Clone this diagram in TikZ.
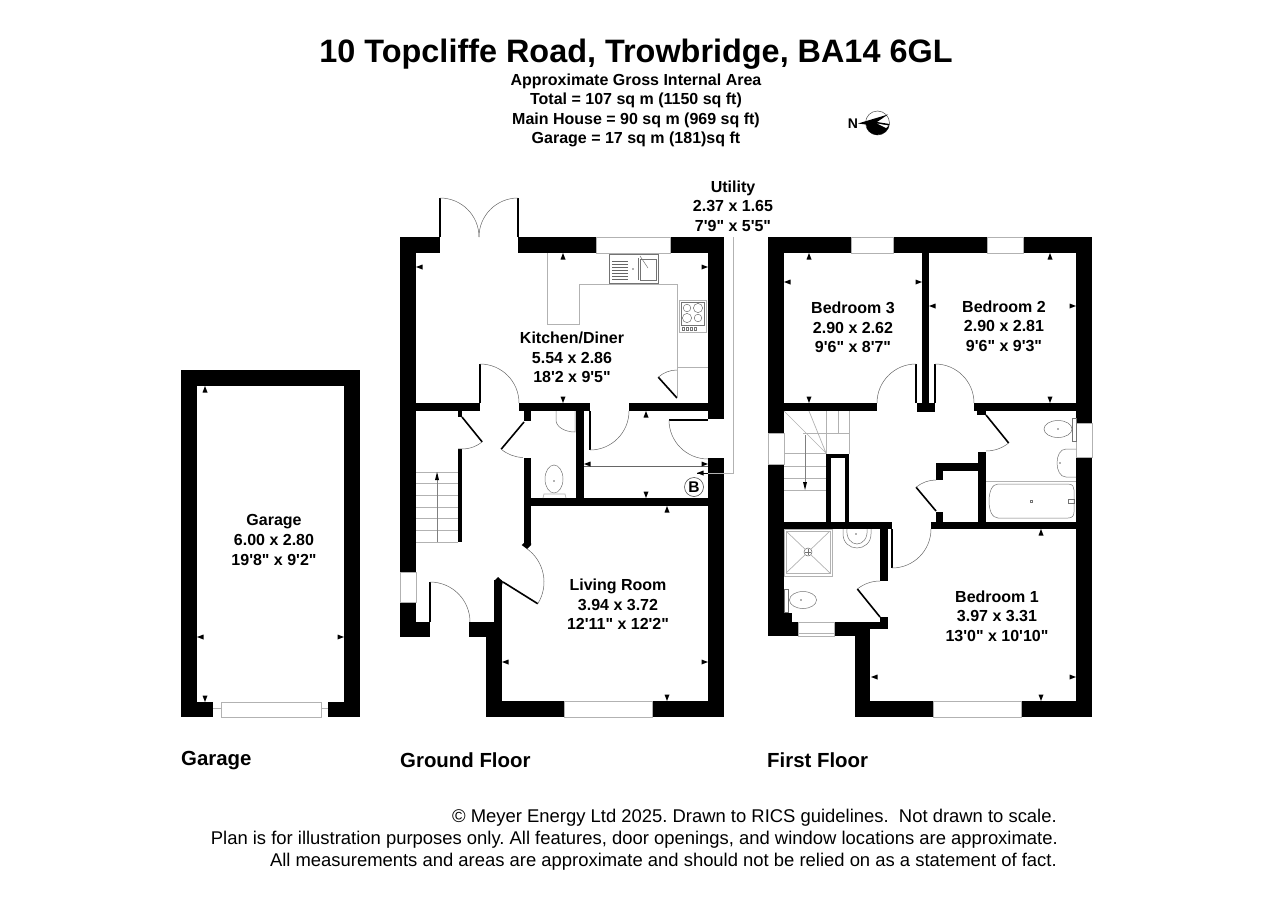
\documentclass[tikz,border=0pt]{standalone}
\usepackage{fontspec}
\setmainfont{Liberation Sans}[Ligatures=TeXOff]
\tikzset{
	wall/.style={fill=black},
	fixture/.style={draw=black!30, line width=0.7pt},
	fitting/.style={draw=black!55, line width=0.5pt},
	leaf/.style={draw=black, line width=1.6pt},
	swing/.style={draw=black!60, line width=0.5pt},
	roomlabel/.style={font=\bfseries\fontsize{16}{19.6}\selectfont, align=center},
	infolabel/.style={font=\bfseries\fontsize{16}{19.4}\selectfont, align=center},
	floorlabel/.style={font=\bfseries\fontsize{20.4}{22}\selectfont, anchor=base west, inner sep=0pt},
	noticelabel/.style={font=\frenchspacing\fontsize{18.43}{22}\selectfont, anchor=base east, inner sep=0pt}
}
\begin{document}
\begin{tikzpicture}[x=1pt, y=1pt, yscale=-1]
	\useasboundingbox (0,0) rectangle (1280,905);

	% Heading
	\node[font=\bfseries\fontsize{32.4}{36}\selectfont] (title) at (636,54.5) {10 Topcliffe Road, Trowbridge, BA14 6GL};
	\node[infolabel] (areas) at (636,110.5) {Approximate Gross Internal Area\\Total = 107 sq m (1150 sq ft)\\Main House = 90 sq m (969 sq ft)\\Garage = 17 sq m (181)sq ft};

	% North point
	\node[font=\bfseries\fontsize{14}{15}\selectfont] (north) at (853,124) {N};
	\draw[black!70, line width=0.5pt] (877.5,123) circle (12);
	\fill (858,123.5) -- (888,114.5) -- (877,122) -- (889.5,124) arc[start angle=5, end angle=150, radius=12] -- (866,124.5) -- cycle;
	\fill[white] (877,123.5) -- (888.5,125.5) -- (886,128) -- cycle;

	% Walls of all three plans
	\foreach \xa/\ya/\xb/\yb in {
		181/370/360/386, 181/370/197/717, 344/370/360/717, 181/702/213/717, 328/702/360/717,
		400/237/440/253, 518/237/596/253, 670/237/724/253,
		400/237/416/572, 400/602/416/637, 416/622/430/637,
		708/237/724/419, 708/458/724/717,
		416/403/480/411, 519/403/590/411, 629/403/708/411,
		458/411/462/417, 458/449/462/542,
		524/411/531/421, 524/458/531/545, 576/411/584/498, 531/498/708/506,
		469/622/494/637, 486/637/502/717, 494/580/502/637,
		486/701/564/717, 652/701/724/717,
		768/237/851/253, 893/237/987/253, 1023/237/1092/253,
		768/237/784/433, 768/464/784/636, 768/622/798/636, 784/613/792/622,
		1076/237/1092/423, 1076/457/1092/717,
		922/253/929/403, 917/403/935/412,
		784/403/877/411, 974/403/1076/411, 977/411/986/415,
		978/452/986/522, 936/463/978/471, 936/463/943/480, 936/512/943/522,
		931/522/1076/529, 784/522/892/529,
		826/454/831/522, 845/454/849/522, 826/454/849/458,
		880/529/888/581, 880/617/888/629, 834/622/888/629, 834/629/870/636,
		855/636/870/717, 855/701/933/717, 1021/701/1092/717}
		\fill[wall] (\xa,\ya) rectangle (\xb,\yb);

	% Angled wall ends by the hall
	\fill[wall] (524,543) -- (521.7,545) -- (527,549) -- (531,545) -- (531,543) -- cycle;
	\fill[wall] (494,581) -- (498,577) -- (503,581.5) -- (502,585) -- (494,585) -- cycle;

	% Windows
	\foreach \xa/\ya/\xb/\yb in {
		221/702/321/717, 596/237/670/253, 400/572/416/602, 564/701/652/717,
		851/237/893/253, 987/237/1023/253, 768/433/784/464, 1076/423/1092/457,
		798/622/834/636, 933/701/1021/717}
		\draw[fixture] (\xa,\ya) rectangle (\xb,\yb);
	\draw[fixture] (213,708) -- (221,708);
	\draw[fixture] (321,708) -- (328,708);
	\draw[fixture] (798,633) -- (834,633);

	% Doors: hinge, width, leaf angle, angle at the end of the swing
	\foreach \x/\y/\rad/\a/\b in {
		440/237/39/-90/0, 518/237/39/-90/-180, 480/403/39/-90/0,
		677/398/28/-132/-90, 462/417/32/51/97, 524/422/35.5/130/92,
		590/411/39/90/0, 708/420/39/180/90, 430/622/40/-90/0, 503/582/41/32/-55,
		916/403/39/-90/-180, 935/403/39/-90/0, 986/415/36/51/90,
		936/511/31/-130/-90, 892/529/39/90/0, 880/617/36/-129/-90} {
		\draw[leaf] (\x,\y) -- ++(\a:\rad);
		\draw[swing] (\x,\y) ++(\a:\rad) arc[start angle=\a, end angle=\b, radius=\rad pt];
	}

	% Kitchen units
	\draw[fixture] (547,253) -- (547,324) -- (579,324) -- (579,284) -- (677,284) -- (677,398);
	\draw[fixture] (677,367) -- (708,367);
	\draw[fitting] (609,254) rectangle (658,283);
	\draw[fitting] (638,258) -- (638,280);
	\draw[fitting] (640,259) rectangle (656,280);
	\foreach \y in {261,264,267,270,273,276,279}
		\draw[black!60, line width=0.7pt] (612,\y) -- (628,\y);
	\fill[black!60] (633,269) circle (0.8);
	\draw[fitting] (640,256) -- (648,268);
	\draw[fixture] (679,300) rectangle (706,332);
	\draw[fitting] (681,302) rectangle (704,325);
	\foreach \x/\y/\rad in {687/308/3.8, 698/308/4.6, 687/318/4.6, 698/318/3.8}
		\draw[fitting] (\x,\y) circle (\rad);
	\foreach \x in {682,686,690,694}
		\draw[fitting] (\x,327.5) rectangle ++(2.5,2.5);

	% Ground floor stairs
	\foreach \y in {472,483.7,495.3,507,518.7,530.3,542}
		\draw[fixture] (416,\y) -- (458,\y);
	\draw[black!50, line width=0.5pt] (437,474) -- (437,542);
	\fill (437,472) -- (439,480) -- (435,480) -- cycle;

	% Ground floor WC
	\draw[fitting] (556,411) -- (556,420) .. controls (556,427) and (565,432) .. (575,432) -- (575,411);
	\draw[fitting] (554,479) ellipse (9 and 14);
	\draw[fixture] (543,498) -- (544,494) -- (565,494) -- (566,498);
	\fill[black!60] (554,481) circle (0.8);

	% Utility
	\draw[black!60, line width=0.6pt] (584,466) -- (708,466);
	\draw[fixture] (733,237) -- (733,473) -- (708,473);
	\draw[line width=0.8pt] (697,473) -- (708,473);
	\draw[black!70, line width=0.6pt] (694,487) circle (9.5);
	\node[font=\bfseries\fontsize{15.5}{16}\selectfont] (boiler) at (694,487) {B};

	% First floor stairs
	\draw[fixture] (826,411) -- (826,454) (838,411) -- (838,433) (849,411) -- (849,454);
	\draw[fixture] (803,433) -- (849,433);
	\draw[fixture] (784,411) -- (826,453) (809,411) -- (826,453);
	\foreach \y in {453,466,478,490}
		\draw[fixture] (784,\y) -- (826,\y);
	\draw[black!50, line width=0.5pt] (805,435) -- (805,484);
	\fill (805,490) -- (803,482) -- (807,482) -- cycle;

	% Bathroom
	\draw[fitting] (1072,418) rectangle (1076,441);
	\draw[fitting] (1058,429) ellipse (14 and 8.5);
	\draw[fitting] (1076,449) -- (1066,449) .. controls (1060,449) and (1057,456) .. (1057,463) .. controls (1057,470) and (1060,477) .. (1066,477) -- (1076,477);
	\draw[fixture] (986,481) -- (1076,481);
	\draw[fitting] (998,484) -- (1068,484) .. controls (1073,484) and (1074,487) .. (1074,490) -- (1074,512) .. controls (1074,516) and (1072,518) .. (1068,518) -- (998,518) .. controls (992,518) and (989,510) .. (989,501) .. controls (989,492) and (992,484) .. (998,484) -- cycle;
	\draw[fitting] (1030,500) rectangle (1032,502);
	\draw[fitting] (1068,499) rectangle (1074,503);
	\fill[black!60] (1060,463) circle (0.8);
	\fill[black!60] (1058,429) circle (0.8);

	% En suite
	\draw[fixture] (784,529) rectangle (832,576);
	\draw[fixture] (786,531) rectangle (830,573);
	\draw[fixture] (786,531) -- (830,573) (830,531) -- (786,573);
	\draw[fill=white, draw=black!60, line width=0.5pt] (808,552) circle (4);
	\draw[fitting] (805,552) -- (811,552) (808,549) -- (808,555);
	\draw[fitting] (843,529) -- (843,534) .. controls (843,543) and (850,548) .. (857,548) .. controls (864,548) and (871,543) .. (871,534) -- (871,529);
	\draw[fitting] (847,529) .. controls (846,538) and (851,544) .. (857,544) .. controls (863,544) and (868,538) .. (867,529);
	\draw[fitting] (784,589) rectangle (788,612);
	\draw[fitting] (803,600) ellipse (13.5 and 8.5);
	\fill[black!60] (801,600) circle (0.8);
	\fill[black!60] (856,534) circle (0.8);

	% Measuring points: position and direction of the tail
	\foreach \x/\y/\a in {
		205/386/90, 205/702/-90, 197/637/0, 344/637/180,
		563/253/90, 563/403/-90, 416/267/0, 708/267/180,
		646/411/90, 646/498/-90, 584/464/0, 708/464/180, 697/473/0,
		667/506/90, 667/701/-90, 502/662/0, 708/662/180,
		809/253/90, 809/403/-90, 784/282/0, 922/282/180,
		1050/253/90, 1050/403/-90, 929/306/0, 1076/306/180,
		1041/529/90, 1041/701/-90, 871/677/0, 1076/677/180}
		\fill[shift={(\x,\y)}, rotate=\a] (0,0) -- (6.5,-2.5) -- (6.5,2.5) -- cycle;

	% Room names
	\node[roomlabel] (kitchen) at (572,357.5) {Kitchen/Diner\\5.54 x 2.86\\18'2 x 9'5"};
	\node[roomlabel] (utility) at (733,206) {Utility\\2.37 x 1.65\\7'9" x 5'5"};
	\node[roomlabel] (living) at (618,604.5) {Living Room\\3.94 x 3.72\\12'11" x 12'2"};
	\node[roomlabel] (garage) at (274,540) {Garage\\6.00 x 2.80\\19'8" x 9'2"};
	\node[roomlabel] (bedroom3) at (853,327.5) {Bedroom 3\\2.90 x 2.62\\9'6" x 8'7"};
	\node[roomlabel] (bedroom2) at (1004,326) {Bedroom 2\\2.90 x 2.81\\9'6" x 9'3"};
	\node[roomlabel] (bedroom1) at (997,616) {Bedroom 1\\3.97 x 3.31\\13'0" x 10'10"};

	% Floor names
	\node[floorlabel] (garagefloor) at (181,765) {Garage};
	\node[floorlabel] (groundfloor) at (400,767) {Ground Floor};
	\node[floorlabel] (firstfloor) at (767,767) {First Floor};

	% Notice
	\node[noticelabel] (notice1) at (1057,822) {© Meyer Energy Ltd 2025. Drawn to RICS guidelines.\ \ Not drawn to scale.};
	\node[noticelabel] (notice2) at (1058,844) {Plan is for illustration purposes only. All features, door openings, and window locations are approximate.};
	\node[noticelabel] (notice3) at (1057,866) {All measurements and areas are approximate and should not be relied on as a statement of fact.};
\end{tikzpicture}
\end{document}
